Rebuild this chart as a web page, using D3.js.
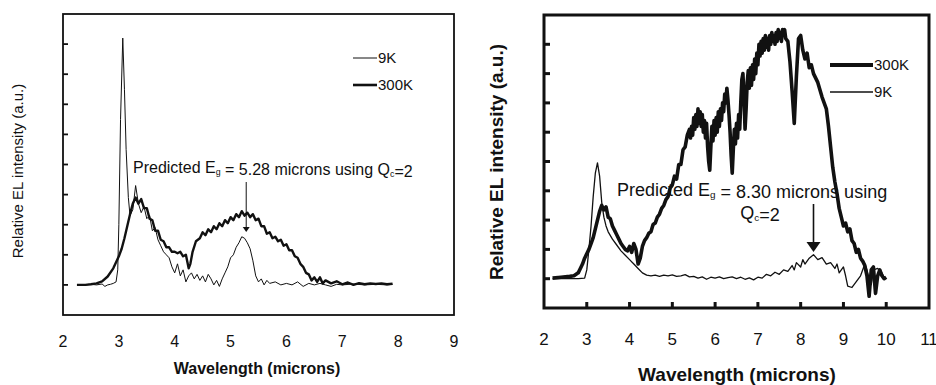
<!DOCTYPE html>
<html>
<head>
<meta charset="utf-8">
<script src="https://cdn.jsdelivr.net/npm/d3@7"></script>
<style>
  body { margin: 0; background: #fff; }
  text { font-family: "Liberation Sans", Arial, sans-serif; fill: #111; }
</style>
</head>
<body>
<div id="canvas"></div>
<script>
// ---- left panel: [wavelength, intensity] ----
const left9K = [[2.25,0],[2.4,0],[2.5,0.02],[2.6,0],[2.7,0.03],[2.75,-0.05],[2.8,0],[2.85,0.02],[2.9,0.05],[2.95,0.1],[2.98,0.5],[3.0,2.0],[3.03,5.5],[3.07,8.2],[3.1,6.5],[3.13,4.5],[3.17,2.9],[3.2,2.3],[3.25,2.5],[3.3,3.3],[3.35,2.7],[3.4,2.4],[3.45,2.6],[3.5,2.2],[3.55,2.3],[3.6,1.8],[3.65,1.9],[3.7,1.5],[3.75,1.3],[3.8,1.1],[3.85,1.0],[3.9,0.9],[3.95,0.6],[4.0,0.4],[4.05,0.7],[4.1,0.3],[4.15,0.5],[4.2,0.1],[4.25,0.3],[4.3,0.4],[4.35,0.2],[4.4,0.35],[4.45,0.15],[4.5,0.3],[4.55,0.1],[4.6,0.35],[4.65,0.2],[4.7,0.0],[4.75,0.15],[4.8,-0.05],[4.85,0.2],[4.9,0.4],[4.95,0.6],[5.0,0.9],[5.05,1.0],[5.1,1.25],[5.15,1.4],[5.2,1.6],[5.25,1.55],[5.3,1.4],[5.35,1.2],[5.4,0.8],[5.45,0.3],[5.5,0.1],[5.55,0.2],[5.6,0.0],[5.65,0.15],[5.7,0.05],[5.8,0.1],[5.9,0.0],[6.0,0.05],[6.1,0.0],[6.2,0.1],[6.3,-0.05],[6.4,0.05],[6.5,0.0],[6.6,0.05],[6.7,0.0],[6.8,-0.05],[6.9,0.02],[7.0,0.0],[7.2,0.03],[7.4,0.0],[7.6,0.02],[7.8,0.0],[7.9,0.02]];
const left300K = [[2.25,0],[2.4,0],[2.5,0.02],[2.6,0.05],[2.7,0.12],[2.8,0.28],[2.9,0.55],[3.0,0.95],[3.05,1.2],[3.1,1.55],[3.15,1.95],[3.2,2.35],[3.25,2.7],[3.3,2.9],[3.35,2.7],[3.4,2.85],[3.45,2.55],[3.5,2.55],[3.55,2.2],[3.6,2.15],[3.65,1.8],[3.7,1.8],[3.75,1.5],[3.8,1.45],[3.85,1.25],[3.9,1.25],[3.95,1.1],[4.0,1.1],[4.05,1.05],[4.1,1.1],[4.15,0.95],[4.2,1.0],[4.25,0.55],[4.28,0.7],[4.32,1.1],[4.38,1.45],[4.45,1.55],[4.5,1.75],[4.55,1.65],[4.6,1.85],[4.65,1.75],[4.7,1.95],[4.75,1.85],[4.8,2.05],[4.85,1.95],[4.9,2.15],[4.95,2.05],[5.0,2.25],[5.05,2.15],[5.1,2.35],[5.15,2.25],[5.2,2.45],[5.25,2.3],[5.3,2.4],[5.35,2.25],[5.4,2.35],[5.45,2.15],[5.5,2.2],[5.55,1.95],[5.6,1.95],[5.65,1.7],[5.7,1.75],[5.75,1.55],[5.8,1.6],[5.85,1.45],[5.9,1.5],[5.95,1.3],[6.0,1.35],[6.05,1.15],[6.1,1.15],[6.15,0.95],[6.2,0.9],[6.25,0.7],[6.3,0.6],[6.35,0.4],[6.4,0.35],[6.45,0.15],[6.5,0.25],[6.55,0.1],[6.6,0.25],[6.65,0.05],[6.7,0.15],[6.8,0.05],[6.9,0.12],[7.0,0.02],[7.1,0.08],[7.2,0.0],[7.3,0.06],[7.4,0.02],[7.5,0.05],[7.6,0.03],[7.7,0.05],[7.8,0.02],[7.9,0.04]];

// ---- right panel: [wavelength, intensity] ----
const right9K = [[2.2,0],[2.4,0],[2.6,0],[2.8,0],[2.95,0.02],[3.0,0.3],[3.05,1.0],[3.1,1.8],[3.15,2.8],[3.2,3.6],[3.25,3.95],[3.3,3.5],[3.35,2.6],[3.4,2.1],[3.45,1.8],[3.5,1.6],[3.6,1.35],[3.7,1.15],[3.8,0.95],[3.9,0.8],[4.0,0.65],[4.1,0.5],[4.2,0.35],[4.3,0.2],[4.4,0.12],[4.5,0.1],[4.6,0.12],[4.7,0.08],[4.8,0.12],[4.9,0.1],[5.0,0.13],[5.1,0.08],[5.2,0.1],[5.3,0.14],[5.4,0.06],[5.5,0.08],[5.6,0.02],[5.7,0.06],[5.8,-0.02],[5.9,0.05],[6.0,0.02],[6.1,0.06],[6.2,0.0],[6.3,0.04],[6.4,0.06],[6.5,0.0],[6.6,0.05],[6.7,-0.02],[6.8,0.03],[6.9,-0.04],[7.0,0.05],[7.1,0.02],[7.2,0.15],[7.3,0.1],[7.4,0.22],[7.5,0.15],[7.6,0.3],[7.7,0.25],[7.8,0.45],[7.85,0.3],[7.9,0.55],[8.0,0.4],[8.05,0.65],[8.1,0.5],[8.2,0.7],[8.3,0.82],[8.4,0.65],[8.5,0.72],[8.6,0.5],[8.7,0.55],[8.8,0.35],[8.85,0.5],[8.9,0.2],[9.0,0.4],[9.05,0.1],[9.1,-0.25],[9.2,-0.3],[9.3,-0.1],[9.4,0.1],[9.5,0.5],[9.55,0.3],[9.6,0.0],[9.65,-0.2],[9.7,0.3],[9.8,0.35],[9.9,0.2],[9.95,0.05],[10.0,0.0]];
const right300K = [[2.2,0.02],[2.4,0.05],[2.6,0.08],[2.7,0.1],[2.8,0.2],[2.85,0.35],[2.9,0.5],[2.95,0.7],[3.0,0.85],[3.05,1.0],[3.1,1.2],[3.15,1.4],[3.2,1.7],[3.25,2.0],[3.3,2.3],[3.35,2.5],[3.4,2.35],[3.45,2.45],[3.5,2.1],[3.55,2.05],[3.6,1.8],[3.65,1.65],[3.7,1.5],[3.75,1.35],[3.8,1.2],[3.85,1.1],[3.9,1.0],[3.95,0.95],[4.0,1.1],[4.05,0.9],[4.1,1.2],[4.15,1.0],[4.2,0.5],[4.25,0.7],[4.3,1.1],[4.35,1.3],[4.4,1.4],[4.45,1.55],[4.5,1.6],[4.55,1.85],[4.6,1.9],[4.65,2.1],[4.7,2.2],[4.75,2.4],[4.8,2.5],[4.85,2.7],[4.9,2.8],[4.95,3.1],[5.0,3.2],[5.05,3.5],[5.1,3.4],[5.15,3.9],[5.2,3.9],[5.25,4.4],[5.3,4.5],[5.35,4.9],[5.4,5.1],[5.425,4.8],[5.45,5.2],[5.475,4.9],[5.5,5.5],[5.525,5.1],[5.55,5.6],[5.575,5.2],[5.6,5.8],[5.625,5.3],[5.65,5.7],[5.675,5.2],[5.7,5.6],[5.725,5.0],[5.75,5.4],[5.775,4.8],[5.8,5.3],[5.825,4.5],[5.85,4.0],[5.875,3.7],[5.9,4.5],[5.925,5.2],[5.95,4.7],[5.975,5.4],[6.0,4.9],[6.025,5.5],[6.05,5.0],[6.075,5.7],[6.1,5.2],[6.125,5.8],[6.15,5.4],[6.175,6.0],[6.2,5.7],[6.225,6.3],[6.25,6.0],[6.275,6.5],[6.3,6.1],[6.325,5.6],[6.35,5.0],[6.375,4.2],[6.4,3.6],[6.425,4.4],[6.45,5.1],[6.475,4.6],[6.5,5.3],[6.525,4.8],[6.55,5.6],[6.575,5.1],[6.6,6.0],[6.625,6.8],[6.65,7.0],[6.675,6.2],[6.7,5.1],[6.725,5.8],[6.75,6.7],[6.775,7.1],[6.8,6.5],[6.825,7.2],[6.85,6.6],[6.875,7.3],[6.9,6.8],[6.925,7.5],[6.95,7.0],[6.975,7.7],[7.0,7.3],[7.025,8.0],[7.05,7.6],[7.075,8.1],[7.1,7.7],[7.125,8.2],[7.15,7.8],[7.175,8.3],[7.2,7.9],[7.225,8.2],[7.25,7.8],[7.275,8.3],[7.3,8.0],[7.325,8.4],[7.35,8.1],[7.375,8.3],[7.4,8.0],[7.425,8.4],[7.45,8.1],[7.475,8.5],[7.5,8.2],[7.525,8.4],[7.55,8.1],[7.575,8.5],[7.6,8.3],[7.625,8.5],[7.65,8.2],[7.7,8.1],[7.75,7.4],[7.8,6.4],[7.85,5.3],[7.9,6.9],[7.95,8.2],[8.0,8.3],[8.05,7.8],[8.1,7.5],[8.15,7.7],[8.2,7.2],[8.25,7.3],[8.3,7.0],[8.4,6.7],[8.5,6.2],[8.6,5.8],[8.65,5.2],[8.7,4.5],[8.75,3.8],[8.8,3.3],[8.85,2.9],[8.9,2.4],[8.95,2.1],[9.0,1.8],[9.05,1.9],[9.1,1.6],[9.15,1.7],[9.2,1.3],[9.25,1.2],[9.3,0.9],[9.35,1.0],[9.4,0.7],[9.45,0.6],[9.5,0.45],[9.55,0.1],[9.6,-0.6],[9.65,0.3],[9.7,0.4],[9.75,-0.5],[9.8,0.1],[9.85,0.3],[9.9,0.1],[9.95,0.0],[10.0,0.05]];

const yTicks = [0,1,2,3,4,5,6,7,8];

const svg = d3.select("#canvas").append("svg")
  .attr("width", 936).attr("height", 385);

function panel(cfg) {
  const x = d3.scaleLinear().domain([2, cfg.xmax]).range([cfg.left, cfg.right]);
  const y = d3.scaleLinear().domain([-1, 9]).range([cfg.bottom, cfg.top]);
  const g = svg.append("g");

  g.append("rect")
    .attr("x", cfg.left).attr("y", cfg.top)
    .attr("width", cfg.right - cfg.left).attr("height", cfg.bottom - cfg.top)
    .attr("fill", "none").attr("stroke", "#111").attr("stroke-width", cfg.frameW);

  // y ticks, inward, no labels
  g.selectAll(".yt").data(yTicks).enter().append("line")
    .attr("x1", cfg.left).attr("x2", cfg.left + cfg.tickLen)
    .attr("y1", d => y(d)).attr("y2", d => y(d))
    .attr("stroke", "#111").attr("stroke-width", cfg.frameW);

  if (cfg.xTicks) {
    g.selectAll(".xt").data(d3.range(3, cfg.xmax)).enter().append("line")
      .attr("x1", d => x(d)).attr("x2", d => x(d))
      .attr("y1", cfg.bottom).attr("y2", cfg.bottom - cfg.tickLen)
      .attr("stroke", "#111").attr("stroke-width", cfg.frameW);
  }

  g.selectAll(".xl").data(d3.range(2, cfg.xmax + 1)).enter().append("text")
    .attr("x", d => x(d)).attr("y", cfg.labelY)
    .attr("text-anchor", "middle").attr("font-size", cfg.labelSize)
    .text(d => d);

  g.append("text")
    .attr("x", cfg.titleX).attr("y", cfg.titleY)
    .attr("text-anchor", "middle").attr("font-size", cfg.titleSize)
    .attr("font-weight", "bold").text("Wavelength (microns)");

  g.append("text")
    .attr("transform", `translate(${cfg.yTitleX},${cfg.yTitleY}) rotate(-90)`)
    .attr("text-anchor", "middle").attr("font-size", cfg.yTitleSize)
    .attr("font-weight", cfg.yTitleWeight).text("Relative EL intensity (a.u.)");

  const line = d3.line().x(d => x(d[0])).y(d => y(d[1]));
  cfg.series.forEach(s => {
    g.append("path").datum(s.data)
      .attr("d", line).attr("fill", "none")
      .attr("stroke", "#111").attr("stroke-width", s.w)
      .attr("stroke-linejoin", "round");
  });

  // legend
  cfg.legend.forEach(l => {
    g.append("line")
      .attr("x1", l.x1).attr("x2", l.x2).attr("y1", l.y).attr("y2", l.y)
      .attr("stroke", "#111").attr("stroke-width", l.w);
    g.append("text")
      .attr("x", l.x2 + 1).attr("y", l.y).attr("dy", "0.35em")
      .attr("font-size", cfg.legendSize).text(l.label);
  });

  // annotation
  cfg.note.forEach(n => {
    const t = g.append("text").attr("x", n.x).attr("y", n.y)
      .attr("font-size", cfg.noteSize).attr("text-anchor", n.anchor || "start");
    n.parts.forEach(p => {
      if (p.sub) {
        t.append("tspan").attr("font-size", cfg.noteSize * 0.55).attr("dy", 2).text(p.sub);
        t.append("tspan").attr("dy", -2).text("");
      } else {
        t.append("tspan").text(p.t);
      }
    });
  });

  const ax = x(cfg.arrowAt);
  g.append("line").attr("x1", ax).attr("x2", ax)
    .attr("y1", cfg.arrowTop).attr("y2", cfg.arrowBot - cfg.headH)
    .attr("stroke", "#111").attr("stroke-width", cfg.arrowW);
  g.append("path")
    .attr("d", `M${ax - cfg.headW / 2},${cfg.arrowBot - cfg.headH} L${ax + cfg.headW / 2},${cfg.arrowBot - cfg.headH} L${ax},${cfg.arrowBot} Z`)
    .attr("fill", "#111");
}

panel({
  left: 63, right: 454, top: 14, bottom: 315, xmax: 9, frameW: 1.8, tickLen: 5,
  xTicks: false, labelY: 347, labelSize: 16, titleX: 257, titleY: 374, titleSize: 16,
  yTitleX: 23, yTitleY: 171, yTitleSize: 15, yTitleWeight: "normal",
  series: [{ data: left9K, w: 1 }, { data: left300K, w: 2.4 }],
  legend: [{ x1: 353, x2: 377, y: 58, w: 1, label: "9K" }, { x1: 353, x2: 377, y: 85, w: 2.6, label: "300K" }],
  legendSize: 15,
  note: [{ x: 133, y: 173, parts: [{ t: "Predicted E" }, { sub: "g" }, { t: " = 5.28 microns using Q" }, { sub: "c" }, { t: "=2" }] }],
  noteSize: 16, arrowAt: 5.28, arrowTop: 182, arrowBot: 232, arrowW: 1, headW: 7, headH: 5
});

panel({
  left: 544, right: 929, top: 15, bottom: 308, xmax: 11, frameW: 3, tickLen: 6,
  xTicks: true, labelY: 345, labelSize: 17, titleX: 737, titleY: 381, titleSize: 19,
  yTitleX: 503, yTitleY: 162, yTitleSize: 19, yTitleWeight: "bold",
  series: [{ data: right9K, w: 1.3 }, { data: right300K, w: 3.6 }],
  legend: [{ x1: 830, x2: 873, y: 65, w: 4, label: "300K" }, { x1: 830, x2: 873, y: 92, w: 1.3, label: "9K" }],
  legendSize: 15,
  note: [
    { x: 617, y: 196, parts: [{ t: "Predicted E" }, { sub: "g" }, { t: " = 8.30 microns using" }] },
    { x: 760, y: 219, anchor: "middle", parts: [{ t: "Q" }, { sub: "c" }, { t: "=2" }] }
  ],
  noteSize: 18, arrowAt: 8.3, arrowTop: 204, arrowBot: 252, arrowW: 1.6, headW: 14, headH: 10
});
</script>
</body>
</html>
